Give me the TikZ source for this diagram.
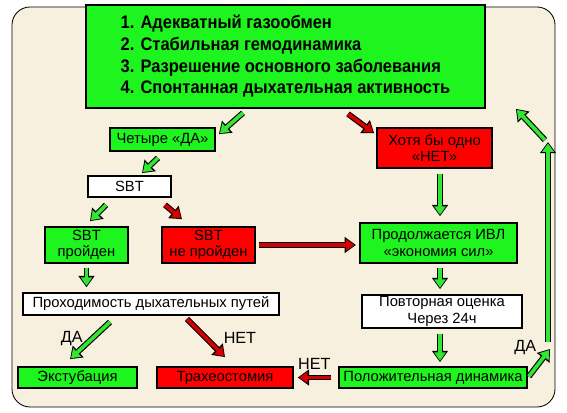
\documentclass[tikz,border=0pt]{standalone}
\usepackage{fontspec}
\setmainfont{Liberation Sans}
\newfontfamily\headfont[FakeStretch=0.91]{Liberation Sans}
\usetikzlibrary{arrows.meta,calc}
\definecolor{Paper}{HTML}{F8F0DE}
\definecolor{Lime}{HTML}{1EF51E}
\definecolor{LimeArrow}{HTML}{33E633}
\definecolor{Alarm}{HTML}{FF0000}
\definecolor{AlarmArrow}{HTML}{D40000}
\tikzset{box/.style={draw=black,line width=1.1pt,inner sep=0pt,align=center,font=\fontsize{10.5}{11.5}\selectfont},gbox/.style={box,fill=Lime},rbox/.style={box,fill=Alarm},wbox/.style={box,fill=white},garrow/.style={line width=2.6pt,draw=LimeArrow,shorten >=1pt,-{Triangle[length=6pt,width=8pt]},preaction={draw=black,line width=4.2pt,shorten >=0pt,-{Triangle[length=8pt,width=11pt]}}},rarrow/.style={garrow,draw=AlarmArrow},lbl/.style={font=\fontsize{11.5}{13}\selectfont,text=black}}

\begin{document}
\begin{tikzpicture}[x=0.025cm,y=-0.025cm]
      \useasboundingbox (0,0) rectangle (567,413);
      \draw[fill=Paper,line width=.6pt,rounded corners=.45cm] (12,7) rectangle (555,407);
      \node[gbox,minimum width=9.98cm,minimum height=2.58cm,align=left,font=\headfont\bfseries\fontsize{12.9}{15.4}\selectfont](top) at (285.5,56.5){1. Адекватный газообмен\\2. Стабильная гемодинамика\\3. Разрешение основного заболевания\\4. Спонтанная дыхательная активность};
      \node[gbox,minimum width=2.63cm,minimum height=.58cm](da) at (162.5,139.5){Четыре «ДА»};
      \node[rbox,minimum width=2.88cm,minimum height=1cm](net) at (434.5,148){Хотя бы одно\\«НЕТ»};
      \node[wbox,minimum width=2.08cm,minimum height=.53cm](sbt) at (129.5,186.5){SBT};
      \node[gbox,minimum width=2.08cm,minimum height=.9cm](passed) at (86.5,245){SBT\\пройден};
      \node[rbox,minimum width=2.33cm,minimum height=.9cm](failed) at (208.5,245){SBT\\не пройден};
      \node[gbox,minimum width=3.93cm,minimum height=1cm](ivl) at (438.5,243){Продолжается ИВЛ\\«экономия сил»};
      \node[wbox,minimum width=6.4cm,minimum height=.56cm](airway) at (151,304){Проходимость дыхательных путей};
      \node[wbox,minimum width=4cm,minimum height=.83cm](again) at (442,311.5){Повторная оценка\\Через 24ч};
      \node[gbox,minimum width=2.98cm,minimum height=.53cm](extub) at (77.5,377.5){Экстубация};
      \node[rbox,minimum width=3.4cm,minimum height=.53cm](trach) at (225,377.5){Трахеостомия};
      \node[gbox,minimum width=4.7cm,minimum height=.53cm](pos) at (433,377.5){Положительная динамика};
      \coordinate (yes) at (550,349);
      \coordinate (up1) at (548,342);
      \coordinate (up2) at (548,142);
      % arrows
      \draw[garrow]([shift={(-42.5,4)}]top.south)--([shift={(3,7)}]da.north east);
      \draw[rarrow]([shift={(62.5,5)}]top.south)--([shift={(-2,6)}]net.north west);
      \draw[garrow]([shift={(-4.5,6)}]da.south)--([shift={(12.5,-2)}]sbt.north);
      \draw[garrow]([shift={(-23.5,7)}]sbt.south)--([shift={(3.5,-5)}]passed.north);
      \draw[rarrow]([shift={(35.5,7)}]sbt.south)--([shift={(-26.5,-7)}]failed.north);
      \draw[rarrow]([xshift=.08cm]failed.east)--([xshift=-.08cm]ivl.west|-failed.east);
      \draw[garrow]([shift={(5.5,5)}]net.south)--([shift={(1.5,-6)}]ivl.north);
      \draw[garrow]([yshift=-.1cm]passed.south)--([yshift=.12cm]passed.south|-airway.north);
      \draw[garrow]([shift={(1.5,4)}]ivl.south)--([shift={(1.5,-5)}]ivl.south|-again.north);
      \draw[garrow]([shift={(-2,5)}]again.south)--([shift={(-2,-4)}]again.south|-pos.north);
      \draw[garrow]([shift={(-41,6)}]airway.south)--([shift={(-7.5,-7)}]extub.north) node[lbl,pos=.45,left=2pt]{ДА};
      \draw[rarrow]([shift={(36,3)}]airway.south)--([shift={(0,-9)}]trach.north) node[lbl,midway,right=8pt]{НЕТ};
      \draw[rarrow]([xshift=-.18cm]pos.west)--([xshift=.1cm]trach.east) node[lbl,midway,above=1pt]{НЕТ};
      \draw[garrow]([shift={(1,-1)}]pos.east)--(yes) node[lbl,pos=.85,left=3pt,yshift=4pt]{ДА};
      \draw[garrow](up1)--(up2);
      \draw[garrow]([shift={(-3,-2)}]up2)--([shift={(30,0)}]top.south east);
    \end{tikzpicture}
\end{document}
